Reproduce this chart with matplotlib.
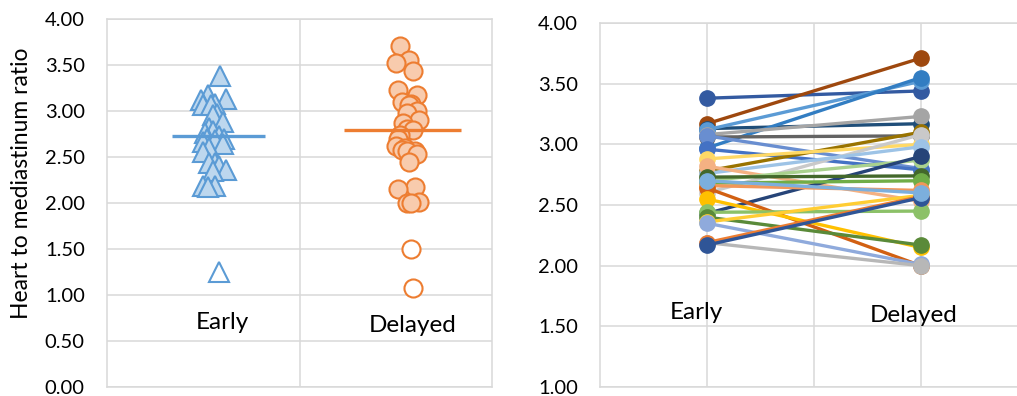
import matplotlib
matplotlib.use('Agg')
import matplotlib.pyplot as plt
import numpy as np

plt.rcParams['font.family'] = ['Lato', 'DejaVu Sans']

# ---------------- data ----------------
categories = ['Early', 'Delayed']
y_label = 'Heart to mediastinum ratio'

# paired values per patient (right chart)
pair_early = [3.38, 3.17, 3.13, 3.12, 2.97, 3.08, 3.06, 3.07, 2.96, 2.78,
              2.88, 2.60, 2.76, 2.82, 2.70, 2.43, 2.73, 2.68, 2.66, 2.64,
              2.55, 2.44, 2.40, 2.36, 2.35, 2.19, 2.19, 2.17, 2.70]
pair_delayed = [3.44, 3.71, 3.17, 3.52, 3.55, 3.23, 3.07, 2.80, 2.79, 3.10,
                3.00, 3.08, 2.98, 2.53, 2.87, 2.90, 2.74, 2.70, 2.62, 2.00,
                2.15, 2.45, 2.17, 2.58, 2.01, 2.00, 2.57, 2.56, 2.60]
pair_colors = ['#335AA1', '#9E480E', '#1F4E79', '#5B9BD5', '#327DC2', '#A5A5A5',
               '#636363', '#698ED0', '#4472C4', '#997300', '#FFD966', '#C9C9C9',
               '#9DC3E6', '#F4B183', '#A9D18E', '#264478', '#43682B', '#70AD47',
               '#F1975A', '#D26012', '#FFC000', '#8CC168', '#5A8A39', '#FFCD33',
               '#8FAADC', '#B7B7B7', '#ED7D31', '#2F5597', '#7CAFDD']

# left chart (x values)
early_vals = [3.38, 3.17, 3.13, 3.12, 3.08, 3.07, 3.06, 2.97, 2.96, 2.88,
              2.82, 2.78, 2.76, 2.73, 2.70, 2.70, 2.68, 2.66, 2.64, 2.60,
              2.55, 2.44, 2.43, 2.40, 2.36, 2.35, 2.19, 2.19, 2.17]
early_x = [0.587, 0.525, 0.62, 0.49, 0.56, 0.50, 0.54, 0.57, 0.55, 0.60,
           0.53, 0.55, 0.51, 0.58, 0.52, 0.61, 0.56, 0.50, 0.60, 0.53,
           0.50, 0.56, 0.53, 0.58, 0.62, 0.55, 0.50, 0.56, 0.525]
early_excl_vals = [1.25]
early_excl_x = [0.58]

delayed_vals = [3.71, 3.55, 3.52, 3.44, 3.23, 3.17, 3.10, 3.08, 3.07, 3.00,
                2.98, 2.90, 2.87, 2.80, 2.79, 2.74, 2.70, 2.62, 2.60, 2.58,
                2.57, 2.56, 2.53, 2.45, 2.17, 2.15, 2.01, 2.00, 2.00]
delayed_x = [1.52, 1.57, 1.50, 1.59, 1.51, 1.61, 1.53, 1.58, 1.57, 1.61,
             1.56, 1.62, 1.54, 1.56, 1.59, 1.52, 1.51, 1.50, 1.55, 1.53,
             1.60, 1.56, 1.61, 1.57, 1.60, 1.51, 1.62, 1.56, 1.58]
delayed_excl_vals = [1.50, 1.08]
delayed_excl_x = [1.58, 1.59]

left_yticks = [0.0, 0.5, 1.0, 1.5, 2.0, 2.5, 3.0, 3.5, 4.0]
right_yticks = [1.0, 1.5, 2.0, 2.5, 3.0, 3.5, 4.0]

# ---------------- figure ----------------
W, H = 1017, 396
fig = plt.figure(figsize=(W / 100, H / 100), dpi=100)
grid_c = '#D9D9D9'
tick_fs = 14.5
cat_fs = 17.5
ylab_fs = 16.5

def px_axes(x0, x1, ytop, ybot):
    return fig.add_axes([x0 / W, 1 - ybot / H, (x1 - x0) / W, (ybot - ytop) / H])

# ---- left chart ----
ax1 = px_axes(107, 492, 19, 387)
ax1.set_xlim(0, 2)
ax1.set_ylim(0, 4)
ax1.set_yticks(left_yticks)
ax1.set_yticklabels([f'{v:.2f}' for v in left_yticks], fontsize=tick_fs)
ax1.set_xticks([1])
ax1.set_xticklabels([])
ax1.tick_params(axis='both', length=0, pad=16)
ax1.grid(True, color=grid_c, lw=1.1)
ax1.set_axisbelow(True)
for s in ax1.spines.values():
    s.set_color(grid_c)
    s.set_linewidth(1.1)

ax1.plot(early_x, early_vals, ls='none', marker='^', ms=14,
         mfc='#BDD7EE', mec='#5B9BD5', mew=1.5, zorder=3)
ax1.plot(early_excl_x, early_excl_vals, ls='none', marker='^', ms=14,
         mfc='white', mec='#5B9BD5', mew=1.5, zorder=3)
ax1.plot(delayed_x, delayed_vals, ls='none', marker='o', ms=13,
         mfc='#F8CBAD', mec='#ED7D31', mew=1.5, zorder=3)
ax1.plot(delayed_excl_x, delayed_excl_vals, ls='none', marker='o', ms=13,
         mfc='white', mec='#ED7D31', mew=1.5, zorder=3)

ax1.hlines(np.mean(early_vals), 0.34, 0.82, color='#5B9BD5', lw=2.4, zorder=4)
ax1.hlines(np.mean(delayed_vals), 1.23, 1.84, color='#ED7D31', lw=2.4, zorder=4)

ax1.text(0.6, 0.70, categories[0], fontsize=cat_fs, ha='center', va='center')
ax1.text(1.59, 0.67, categories[1], fontsize=cat_fs, ha='center', va='center')

fig.text(22 / W, 1 - 183 / H, y_label, rotation=90, fontsize=ylab_fs,
         ha='center', va='center')

# ---- right chart ----
ax2 = px_axes(600, 1017, 23, 387)
ax2.set_xlim(0, 3.9)
ax2.set_ylim(1, 4)
ax2.set_yticks(right_yticks)
ax2.set_yticklabels([f'{v:.2f}' for v in right_yticks], fontsize=tick_fs)
ax2.set_xticks([1, 2, 3])
ax2.set_xticklabels([])
ax2.tick_params(axis='both', length=0, pad=16)
ax2.grid(True, color=grid_c, lw=1.1)
ax2.set_axisbelow(True)
for side, s in ax2.spines.items():
    s.set_color(grid_c)
    s.set_linewidth(1.1)
ax2.spines['right'].set_visible(False)

for e, d, c in zip(pair_early, pair_delayed, pair_colors):
    ax2.plot([1, 3], [e, d], color=c, lw=2.4, marker='o', ms=11,
             mfc=c, mec=c, solid_capstyle='round', zorder=3)

ax2.text(0.9, 1.61, categories[0], fontsize=cat_fs, ha='center', va='center')
ax2.text(2.93, 1.59, categories[1], fontsize=cat_fs, ha='center', va='center')

fig.savefig('out.png', dpi=100)
